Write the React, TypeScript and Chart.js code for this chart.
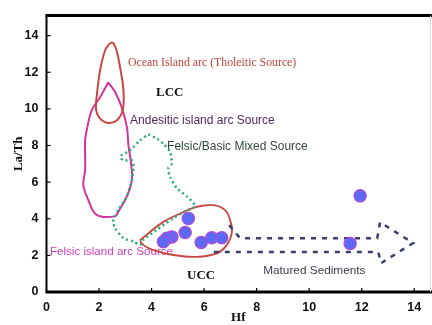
import React, { useEffect, useRef } from "react";
import { Chart, registerables } from "chart.js";

Chart.register(...registerables);

// Sample points (Hf, La/Th)
const sampleHf = [5.40, 5.28, 4.77, 4.58, 4.45, 5.89, 6.29, 6.67, 11.56, 11.94];
const sampleLaTh = [4.02, 3.25, 3.01, 2.93, 2.74, 2.71, 2.96, 2.96, 2.65, 5.25];

// Field outlines (Hf, La/Th)
const oceanHf = [2.42, 2.23, 2.04, 1.91, 1.89, 2.04, 2.35, 2.67, 2.90, 2.93, 2.80, 2.67, 2.54, 2.42];
const oceanLaTh = [13.60, 13.19, 12.10, 10.64, 9.92, 9.47, 9.23, 9.37, 9.92, 11.01, 12.28, 13.19, 13.60, 13.60];

const andesHf = [2.35, 2.61, 2.86, 3.06, 3.12, 3.22, 3.25, 3.06, 2.74, 2.61, 1.91, 1.59, 1.40, 1.47, 1.47, 1.53, 1.72, 2.04, 2.35];
const andesLaTh = [11.45, 10.92, 10.10, 9.01, 8.01, 7.03, 6.12, 5.22, 4.40, 4.13, 4.21, 5.03, 5.85, 6.66, 8.28, 8.83, 9.92, 10.64, 11.45];

const mixedHf = [3.88, 4.20, 4.45, 4.70, 4.77, 4.64, 4.70, 4.96, 5.34, 5.66, 5.28, 4.83, 4.20, 3.69, 3.56, 3.31, 2.93, 2.61, 2.54, 2.61, 2.74, 3.06, 3.25, 3.31, 3.25, 2.99, 2.82, 2.88, 3.07, 3.31, 3.56, 3.88];
const mixedLaTh = [8.61, 8.38, 8.10, 7.65, 7.01, 6.76, 6.31, 5.67, 5.22, 4.69, 4.41, 4.03, 3.40, 2.85, 2.58, 2.76, 2.94, 3.49, 3.85, 4.13, 4.49, 5.22, 6.12, 6.85, 7.19, 7.19, 7.30, 7.50, 7.63, 7.92, 8.28, 8.61];

const uccHf = [3.56, 3.69, 4.07, 4.83, 5.72, 6.48, 6.86, 7.06, 6.99, 6.80, 6.35, 5.72, 5.28, 4.45, 3.56];
const uccLaTh = [2.83, 2.56, 2.29, 2.02, 1.92, 2.11, 2.56, 3.29, 3.92, 4.47, 4.74, 4.65, 4.41, 3.83, 2.83];

const arrowHf = [6.95, 7.37, 12.59, 12.70, 13.96, 12.74, 12.63, 6.15];
const arrowLaTh = [3.65, 2.94, 2.94, 3.81, 2.67, 1.58, 2.18, 2.18];

// Tick labels
const xTicks = [0, 2, 4, 6, 8, 10, 12, 14];
const yTicks = [0, 2, 4, 6, 8, 10, 12, 14];

// Annotation texts and their anchors (Hf, La/Th)
const labelTexts = [
  "Ocean Island arc (Tholeitic Source)",
  "LCC",
  "Andesitic island arc Source",
  "Felsic/Basic Mixed Source",
  "Felsic island arc Source",
  "UCC",
  "Matured Sediments",
];
const labelHf = [3.10, 4.17, 3.18, 4.59, 0.13, 5.35, 8.25];
const labelLaTh = [12.53, 10.90, 9.37, 7.96, 2.21, 0.87, 1.17];
const labelFonts = [
  "11.8px 'Liberation Serif', serif",
  "bold 13px 'Liberation Serif', serif",
  "12px 'Liberation Sans', Arial, sans-serif",
  "12px 'Liberation Sans', Arial, sans-serif",
  "11.6px 'Liberation Sans', Arial, sans-serif",
  "bold 13px 'Liberation Serif', serif",
  "11.8px 'Liberation Sans', Arial, sans-serif",
];
const labelColors = ["#c0443e", "#111111", "#4a2a58", "#2c4a36", "#d23cc0", "#111111", "#3a3a4a"];

const TICK_FAMILY = "'Liberation Sans', Arial";
const TICK_FONT = "bold 12.5px " + TICK_FAMILY;

const toPts = (xs: number[], ys: number[]) => xs.map((x, i) => ({ x, y: ys[i] }));

const decorPlugin = {
  id: "decor",
  afterDraw(chart: any) {
    const { ctx, chartArea, scales } = chart;
    const xs = scales.x;
    const ys = scales.y;
    ctx.save();
    ctx.strokeStyle = "#000";
    ctx.lineCap = "butt";
    ctx.lineWidth = 3;
    ctx.beginPath();
    ctx.moveTo(chartArea.left - 1, chartArea.top);
    ctx.lineTo(432, chartArea.top);
    ctx.stroke();
    ctx.beginPath();
    ctx.moveTo(chartArea.left - 1, chartArea.bottom);
    ctx.lineTo(432, chartArea.bottom);
    ctx.stroke();
    ctx.lineWidth = 2;
    ctx.beginPath();
    ctx.moveTo(chartArea.left, chartArea.top);
    ctx.lineTo(chartArea.left, chartArea.bottom);
    ctx.stroke();
    ctx.strokeStyle = "#d8d8d8";
    ctx.lineWidth = 1;
    ctx.beginPath();
    ctx.moveTo(chartArea.right + 0.5, chartArea.top);
    ctx.lineTo(chartArea.right + 0.5, chartArea.bottom);
    ctx.stroke();
    ctx.strokeStyle = "#000";
    ctx.lineWidth = 1.2;
    ctx.font = TICK_FONT;
    ctx.fillStyle = "#111";
    ctx.textAlign = "center";
    ctx.textBaseline = "top";
    xTicks.forEach((v) => {
      const px = xs.getPixelForValue(v);
      ctx.fillText(String(v), px, chartArea.bottom + 9);
      if (v === 0) return;
      ctx.beginPath();
      ctx.moveTo(px, chartArea.bottom);
      ctx.lineTo(px, chartArea.bottom - 4);
      ctx.stroke();
    });
    yTicks.forEach((v) => {
      if (v === 0) return;
      const py = ys.getPixelForValue(v);
      ctx.beginPath();
      ctx.moveTo(chartArea.left, py);
      ctx.lineTo(chartArea.left + 4, py);
      ctx.stroke();
    });
    ctx.restore();
  },
  beforeDatasetsDraw(chart: any) {
    const { ctx, scales } = chart;
    ctx.save();
    ctx.textBaseline = "middle";
    ctx.textAlign = "left";
    labelTexts.forEach((t, i) => {
      ctx.font = labelFonts[i];
      ctx.fillStyle = labelColors[i];
      ctx.fillText(t, scales.x.getPixelForValue(labelHf[i]), scales.y.getPixelForValue(labelLaTh[i]));
    });
    ctx.restore();
  },
};

export default function App() {
  const ref = useRef<HTMLCanvasElement>(null);
  useEffect(() => {
    if (!ref.current) return;
    const chart = new Chart(ref.current, {
      type: "scatter",
      data: {
        datasets: [
          {
            label: "Samples",
            data: toPts(sampleHf, sampleLaTh),
            pointRadius: 6,
            pointHoverRadius: 6,
            backgroundColor: "#5b6af2",
            borderColor: "#a24ee0",
            borderWidth: 1.5,
            order: 0,
          },
          {
            label: "Ocean Island arc",
            data: toPts(oceanHf, oceanLaTh),
            showLine: true,
            tension: 0.4,
            pointRadius: 0,
            borderColor: "#c8463f",
            borderWidth: 2,
            fill: false,
            order: 3,
          },
          {
            label: "Andesitic",
            data: toPts(andesHf, andesLaTh),
            showLine: true,
            tension: 0.35,
            pointRadius: 0,
            borderColor: "#d2359e",
            borderWidth: 2,
            fill: false,
            order: 4,
          },
          {
            label: "UCC",
            data: toPts(uccHf, uccLaTh),
            showLine: true,
            tension: 0.4,
            pointRadius: 0,
            borderColor: "#c8463f",
            borderWidth: 1.8,
            fill: false,
            order: 2,
          },
          {
            label: "Mixed",
            data: toPts(mixedHf, mixedLaTh),
            showLine: true,
            tension: 0.25,
            pointRadius: 0,
            borderColor: "#2ea77a",
            borderWidth: 2.5,
            borderDash: [2, 3],
            fill: false,
            order: 1,
          },
          {
            label: "Matured Sediments",
            data: toPts(arrowHf, arrowLaTh),
            showLine: true,
            tension: 0,
            pointRadius: 0,
            borderColor: "#3c3f6e",
            borderWidth: 2.5,
            borderDash: [5, 6],
            fill: false,
            order: 1,
          },
        ],
      },
      options: {
        animation: false,
        responsive: false,
        events: [],
        layout: { autoPadding: false, padding: { top: 15, right: 2, left: 0, bottom: 0 } },
        plugins: { legend: { display: false }, tooltip: { enabled: false } },
        scales: {
          x: {
            type: "linear",
            min: 0,
            max: 14.6,
            afterFit: (s: any) => {
              s.height = 33;
            },
            grid: { display: false, drawTicks: false },
            border: { display: false },
            ticks: { display: false },
            title: {
              display: true,
              text: "Hf",
              color: "#111",
              padding: { top: 0, bottom: 0 },
              font: { family: "'Liberation Serif', serif", size: 13, weight: "bold" },
            },
          },
          y: {
            type: "linear",
            min: 0,
            max: 15.1,
            afterFit: (s: any) => {
              s.width = 46.5;
            },
            afterBuildTicks: (s: any) => {
              s.ticks = yTicks.map((v) => ({ value: v }));
            },
            grid: { display: false, drawTicks: false },
            border: { display: false },
            ticks: {
              padding: 8,
              color: "#111",
              font: { family: TICK_FAMILY, size: 12.5, weight: "bold" },
            },
            title: {
              display: true,
              text: "La/Th",
              color: "#111",
              padding: { top: 11, bottom: 0 },
              font: { family: "'Liberation Serif', serif", size: 13, weight: "bold" },
            },
          },
        },
      },
      plugins: [decorPlugin],
    } as any);
    return () => chart.destroy();
  }, []);
  return (
    <div style={{ position: "absolute", left: 0, top: 0, width: 432, height: 325, background: "#fff" }}>
      <canvas ref={ref} width={432} height={325} />
    </div>
  );
}
